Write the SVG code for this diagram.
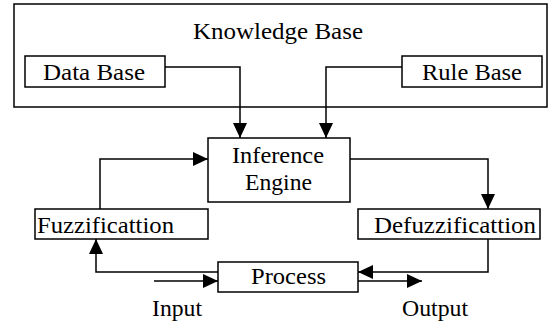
<svg xmlns="http://www.w3.org/2000/svg" width="550" height="322" viewBox="0 0 550 322">
  <style>
    .box { fill: #fff; stroke: #000; stroke-width: 1.5; }
    .frame { fill: none; stroke: #000; stroke-width: 1.5; }
    .lbl { font-family: 'Liberation Serif', 'Times New Roman', Times, serif; font-size: 24px; fill: #000; }
    .wire { fill: none; stroke: #000; stroke-width: 1.5; marker-end: url(#arrow); }
  </style>
  <defs>
    <marker id="arrow" viewBox="0 0 15 14" refX="15" refY="7" markerWidth="15" markerHeight="14" markerUnits="userSpaceOnUse" orient="auto">
      <path d="M0,0 L15,7 L0,14 Z" fill="#000"/>
    </marker>
  </defs>
  <rect width="550" height="322" fill="#fff"/>

  <g id="knowledge-base">
    <rect class="frame" x="14" y="4" width="533" height="103"/>
    <text class="lbl" x="193" y="39" textLength="170" lengthAdjust="spacingAndGlyphs">Knowledge Base</text>
  </g>

  <g id="data-base">
    <rect class="box" x="25" y="56" width="140" height="31"/>
    <text class="lbl" x="43" y="80" textLength="102" lengthAdjust="spacingAndGlyphs">Data Base</text>
  </g>

  <g id="rule-base">
    <rect class="box" x="402" y="56" width="140" height="31"/>
    <text class="lbl" x="422" y="80" textLength="100" lengthAdjust="spacingAndGlyphs">Rule Base</text>
  </g>

  <g id="inference-engine">
    <rect class="box" x="208" y="138" width="142" height="64"/>
    <text class="lbl" x="232" y="163" textLength="92" lengthAdjust="spacingAndGlyphs">Inference</text>
    <text class="lbl" x="245" y="190" textLength="67" lengthAdjust="spacingAndGlyphs">Engine</text>
  </g>

  <g id="fuzzification">
    <rect class="box" x="35" y="209" width="173" height="30"/>
    <text class="lbl" x="37" y="233" textLength="137" lengthAdjust="spacingAndGlyphs">Fuzzificattion</text>
  </g>

  <g id="defuzzification">
    <rect class="box" x="358" y="209" width="182" height="30"/>
    <text class="lbl" x="374" y="233" textLength="162" lengthAdjust="spacingAndGlyphs">Defuzzificattion</text>
  </g>

  <g id="process">
    <rect class="box" x="218" y="262" width="140" height="30"/>
    <text class="lbl" x="251" y="284" textLength="75" lengthAdjust="spacingAndGlyphs">Process</text>
  </g>

  <g id="input-label">
    <text class="lbl" x="152" y="316" textLength="50" lengthAdjust="spacingAndGlyphs">Input</text>
  </g>

  <g id="output-label">
    <text class="lbl" x="402" y="316" textLength="66" lengthAdjust="spacingAndGlyphs">Output</text>
  </g>

  <g id="connectors">
    <!-- Data Base to Inference Engine -->
    <path class="wire" d="M165,67 H240 V138"/>
    <!-- Rule Base to Inference Engine -->
    <path class="wire" d="M402,67 H326 V138"/>
    <!-- Fuzzification to Inference Engine -->
    <path class="wire" d="M100,209 V159 H208"/>
    <!-- Inference Engine to Defuzzification -->
    <path class="wire" d="M350,159 H488 V209"/>
    <!-- Process to Fuzzification -->
    <path class="wire" d="M218,272 H96 V239"/>
    <!-- Defuzzification to Process -->
    <path class="wire" d="M488,239 V272 H358"/>
    <!-- Input into Process -->
    <path class="wire" d="M154,281 H218"/>
    <!-- Output from Process -->
    <path class="wire" d="M358,281 H422"/>
  </g>
</svg>
